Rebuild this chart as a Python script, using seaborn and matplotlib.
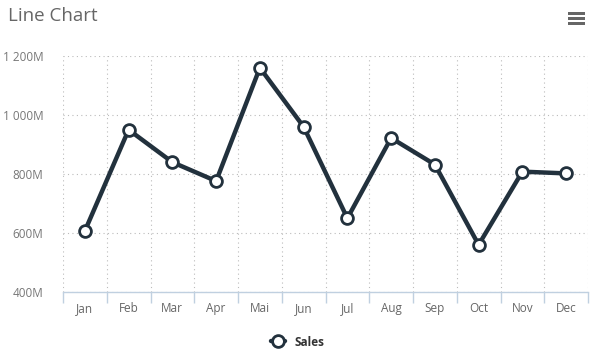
import matplotlib
matplotlib.use("Agg")
import matplotlib.pyplot as plt
import matplotlib.ticker as mticker
from matplotlib.patches import Rectangle
import seaborn as sns
import pandas as pd

months = ["Jan", "Feb", "Mar", "Apr", "Mai", "Jun", "Jul", "Aug", "Sep", "Oct", "Nov", "Dec"]
sales = [607, 950, 840, 776, 1160, 960, 650, 922, 832, 560, 808, 802]  # in millions
y_ticks = [400, 600, 800, 1000, 1200]

df = pd.DataFrame({"month": months, "sales": sales})

sns.set_style("white")
plt.rcParams["font.family"] = ["Open Sans", "DejaVu Sans"]

W, H = 598, 363
fig = plt.figure(figsize=(W / 100, H / 100), dpi=100)
ax = fig.add_axes([63 / W, (H - 292) / H, 525 / W, 236 / H])

sns.lineplot(data=df, x="month", y="sales", ax=ax, color="#22313d", linewidth=3.2,
             marker="o", markersize=8.5, markerfacecolor="white", markeredgecolor="#22313d",
             markeredgewidth=2, label="Sales", sort=False)

ax.set_xlim(-0.5, len(months) - 0.5)
ax.set_ylim(400, 1200)
ax.set_yticks(y_ticks)
ax.yaxis.set_major_formatter(mticker.FuncFormatter(lambda v, p: f"{int(v):,}M".replace(",", " ")))
ax.set_xticks(range(len(months)))
ax.set_xticklabels(months)
ax.set_xticks([i - 0.5 for i in range(len(months) + 1)], minor=True)

ax.grid(True, axis="y", which="major", linestyle=(0, (1, 3)), color="#bbbbbb", linewidth=0.8)
ax.grid(True, axis="x", which="minor", linestyle=(0, (1, 3)), color="#bbbbbb", linewidth=0.8)
ax.grid(False, axis="x", which="major")

for s in ["top", "right", "left"]:
    ax.spines[s].set_visible(False)
ax.spines["bottom"].set_color("#c0d0e0")
ax.spines["bottom"].set_linewidth(1)

ax.tick_params(axis="x", which="major", bottom=False, length=0, pad=7, labelsize=8.5, labelcolor="#666666")
ax.tick_params(axis="x", which="minor", bottom=True, length=8, color="#c0d0e0", width=1, direction="out")
ax.tick_params(axis="y", length=0, pad=14, labelsize=8.5, labelcolor="#777777")
for lbl in ax.get_yticklabels():
    lbl.set_horizontalalignment("right")

ax.set_xlabel("")
ax.set_ylabel("")

fig.text(8 / W, 1 - 16 / H, "Line Chart", fontsize=13.5, color="#666666", va="center", ha="left")

leg = ax.legend(loc="center", frameon=False, handlelength=1.2, fontsize=8.5)
leg.set_bbox_to_anchor((298 / W, 1 - 342 / H), transform=fig.transFigure)
for t in leg.get_texts():
    t.set_color("#333333")
    t.set_fontweight("bold")

for yy in [12, 17, 22]:
    fig.add_artist(Rectangle((568 / W, 1 - (yy + 3) / H), 17 / W, 3 / H,
                             transform=fig.transFigure, color="#666666", lw=0))

fig.savefig("out.png", dpi=100)
